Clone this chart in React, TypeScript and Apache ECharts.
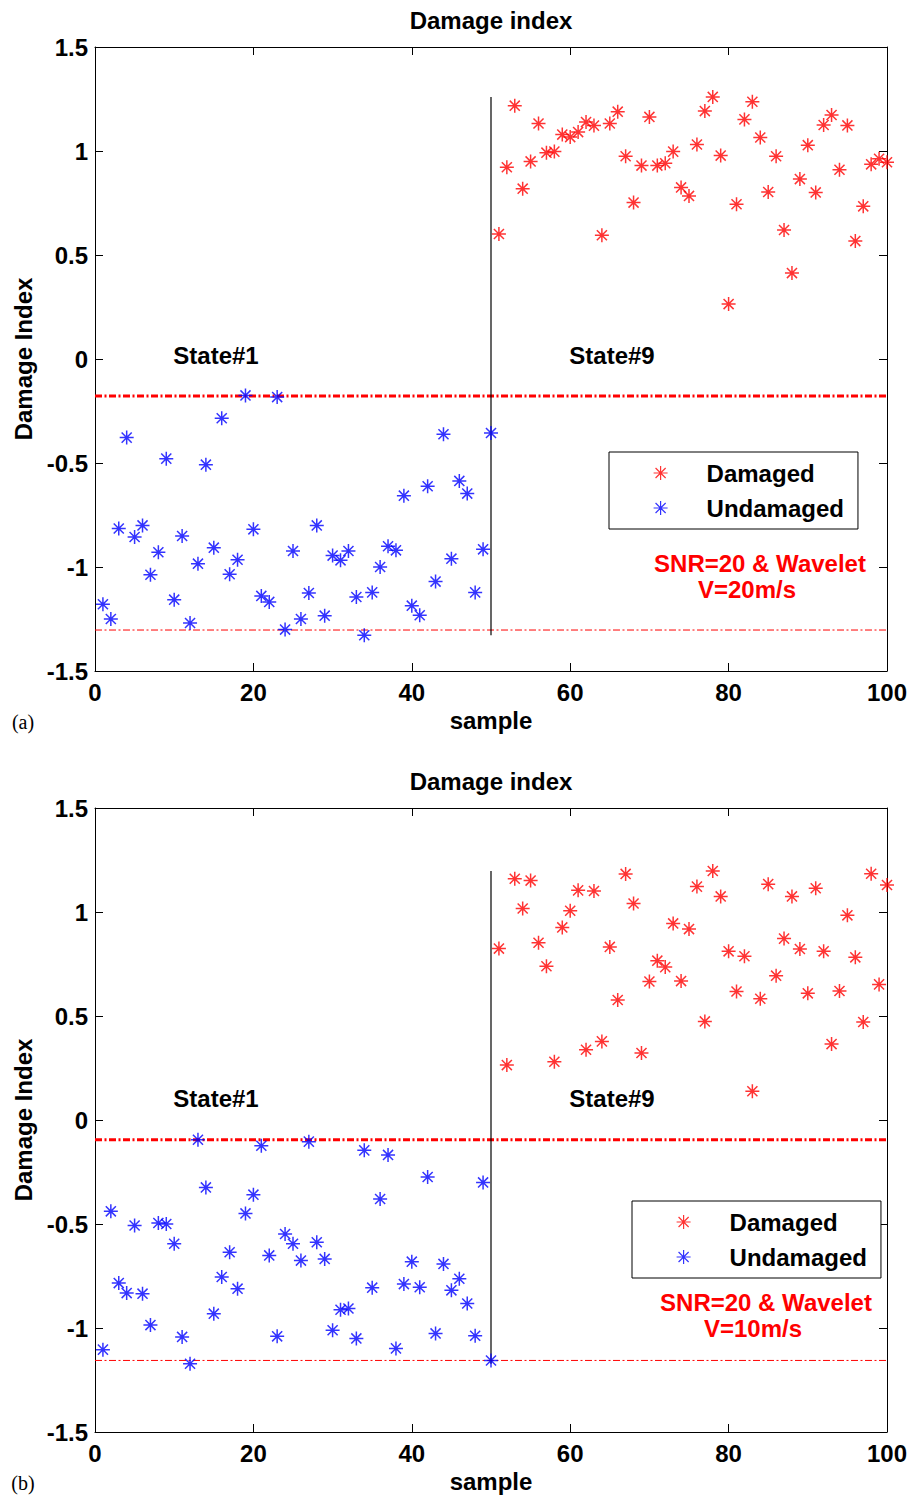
import React, { useEffect, useRef } from "react";
import * as echarts from "echarts";

// ---------- data ----------
const xTicks = [0, 20, 40, 60, 80, 100];
const yTicks = [-1.5, -1, -0.5, 0, 0.5, 1, 1.5];

// panel (a): V = 20 m/s
const undamagedA = [
  -1.179, -1.25, -0.815, -0.378, -0.856, -0.8, -1.037, -0.929, -0.479, -1.157,
  -0.851, -1.269, -0.984, -0.508, -0.907, -0.285, -1.035, -0.965, -0.175, -0.819,
  -1.139, -1.168, -0.183, -1.301, -0.923, -1.25, -1.125, -0.8, -1.234, -0.945,
  -0.968, -0.923, -1.144, -1.328, -1.122, -1.0, -0.9, -0.92, -0.657, -1.186,
  -1.232, -0.612, -1.07, -0.362, -0.96, -0.586, -0.647, -1.122, -0.915, -0.356,
];
const damagedA = [
  0.601, 0.922, 1.218, 0.819, 0.95, 1.132, 0.992, 0.997, 1.079, 1.067,
  1.091, 1.139, 1.122, 0.595, 1.132, 1.189, 0.975, 0.752, 0.93, 1.164,
  0.93, 0.941, 0.997, 0.825, 0.784, 1.031, 1.192, 1.26, 0.978, 0.264,
  0.744, 1.152, 1.237, 1.065, 0.803, 0.975, 0.62, 0.413, 0.865, 1.028,
  0.801, 1.125, 1.173, 0.91, 1.123, 0.567, 0.734, 0.936, 0.963, 0.946,
];
const thresholdHighA = -0.178;
const thresholdLowA = -1.303;

// panel (b): V = 10 m/s
const undamagedB = [
  -1.104, -0.439, -0.784, -0.832, -0.507, -0.835, -0.986, -0.495, -0.5, -0.595,
  -1.043, -1.172, -0.095, -0.324, -0.931, -0.755, -0.636, -0.811, -0.449, -0.359,
  -0.124, -0.651, -1.04, -0.548, -0.595, -0.676, -0.104, -0.588, -0.668, -1.011,
  -0.912, -0.906, -1.05, -0.146, -0.806, -0.38, -0.168, -1.098, -0.789, -0.681,
  -0.804, -0.274, -1.026, -0.692, -0.819, -0.763, -0.882, -1.037, -0.3, -1.156,
];
const damagedB = [
  0.824, 0.264, 1.16, 1.017, 1.151, 0.852, 0.739, 0.28, 0.926, 1.006,
  1.104, 0.338, 1.101, 0.378, 0.832, 0.577, 1.183, 1.041, 0.322, 0.666,
  0.766, 0.735, 0.945, 0.668, 0.918, 1.122, 0.474, 1.197, 1.075, 0.811,
  0.618, 0.787, 0.138, 0.583, 1.134, 0.694, 0.872, 1.075, 0.822, 0.609,
  1.114, 0.811, 0.365, 0.62, 0.984, 0.782, 0.471, 1.184, 0.652, 1.13,
];
const thresholdHighB = -0.095;
const thresholdLowB = -1.156;

const firstUndamagedSample = 1;
const firstDamagedSample = 51;
const stateBoundary = 50;

const seriesNames = ["Damaged", "Undamaged"];
const stateLabels = ["State#1", "State#9"];
const noteA = ["SNR=20 & Wavelet", "V=20m/s"];
const noteB = ["SNR=20 & Wavelet", "V=10m/s"];

// ---------- styling ----------
const FONT = "'Liberation Sans', Arial, Helvetica, sans-serif";
const FS = 24;
const RED = "#ff0000";
const BLUE = "#0000ff";
const ASTERISK =
  "path://M0,-1L0,1M-1,0L1,0M-0.72,-0.72L0.72,0.72M-0.72,0.72L0.72,-0.72";

const PLOT_LEFT = 95;
const PLOT_WIDTH = 792;
const PLOT_HEIGHT = 624;
const TOPS = [47, 808];

function buildPanel(
  idx: number,
  damaged: number[],
  undamaged: number[],
  tHigh: number,
  tLow: number
) {
  const top = TOPS[idx];
  const grid = {
    left: PLOT_LEFT,
    top,
    width: PLOT_WIDTH,
    height: PLOT_HEIGHT,
    show: false,
  };
  const axisLine = { show: true, onZero: false, lineStyle: { color: "#000", width: 1 } };
  const axisTick = { show: true, inside: true, length: 8, lineStyle: { color: "#000", width: 1 } };
  const labelStyle = {
    color: "#000",
    fontFamily: FONT,
    fontWeight: "bold",
    fontSize: FS,
  };
  const xAxes = [
    {
      gridIndex: idx,
      type: "value",
      position: "bottom",
      min: xTicks[0],
      max: xTicks[xTicks.length - 1],
      interval: xTicks[1] - xTicks[0],
      axisLine,
      axisTick,
      splitLine: { show: false },
      axisLabel: { ...labelStyle, margin: 9 },
      name: "sample",
      nameLocation: "middle",
      nameGap: 37,
      nameTextStyle: { ...labelStyle },
    },
    {
      gridIndex: idx,
      type: "value",
      position: "top",
      min: xTicks[0],
      max: xTicks[xTicks.length - 1],
      interval: xTicks[1] - xTicks[0],
      axisLine,
      axisTick,
      splitLine: { show: false },
      axisLabel: { show: false },
    },
  ];
  const yAxes = [
    {
      gridIndex: idx,
      type: "value",
      position: "left",
      min: yTicks[0],
      max: yTicks[yTicks.length - 1],
      interval: yTicks[1] - yTicks[0],
      axisLine,
      axisTick,
      splitLine: { show: false },
      axisLabel: { ...labelStyle, margin: 7 },
      name: "Damage Index",
      nameLocation: "middle",
      nameGap: 58,
      nameTextStyle: { ...labelStyle },
    },
    {
      gridIndex: idx,
      type: "value",
      position: "right",
      min: yTicks[0],
      max: yTicks[yTicks.length - 1],
      interval: yTicks[1] - yTicks[0],
      axisLine,
      axisTick,
      splitLine: { show: false },
      axisLabel: { show: false },
    },
  ];
  const xi = idx * 2;
  const yi = idx * 2;
  const all = [...damaged, ...undamaged];
  const vMax = Math.max(...all);
  const vMin = Math.min(...all);
  const series = [
    {
      type: "line",
      xAxisIndex: xi,
      yAxisIndex: yi,
      data: [
        [xTicks[0], tHigh],
        [xTicks[xTicks.length - 1], tHigh],
      ],
      symbol: "none",
      silent: true,
      lineStyle: { color: RED, width: 3, type: [7, 2.5, 2, 2.5] },
      z: 2,
    },
    {
      type: "line",
      xAxisIndex: xi,
      yAxisIndex: yi,
      data: [
        [xTicks[0], tLow],
        [xTicks[xTicks.length - 1], tLow],
      ],
      symbol: "none",
      silent: true,
      lineStyle: { color: RED, width: 1, type: [7, 2.5, 2, 2.5] },
      z: 2,
    },
    {
      type: "line",
      xAxisIndex: xi,
      yAxisIndex: yi,
      data: [
        [stateBoundary, vMax],
        [stateBoundary, vMin],
      ],
      symbol: "none",
      silent: true,
      lineStyle: { color: "#000", width: 1.2 },
      z: 2,
    },
    {
      name: seriesNames[0],
      type: "scatter",
      xAxisIndex: xi,
      yAxisIndex: yi,
      data: damaged.map((v, i) => [firstDamagedSample + i, v]),
      symbol: ASTERISK,
      symbolSize: 14,
      itemStyle: { color: "transparent", borderColor: RED, borderWidth: 1.5 },
      z: 3,
    },
    {
      name: seriesNames[1],
      type: "scatter",
      xAxisIndex: xi,
      yAxisIndex: yi,
      data: undamaged.map((v, i) => [firstUndamagedSample + i, v]),
      symbol: ASTERISK,
      symbolSize: 14,
      itemStyle: { color: "transparent", borderColor: BLUE, borderWidth: 1.5 },
      z: 3,
    },
  ];
  return { grid, xAxes, yAxes, series };
}

function textEl(
  text: string,
  x: number,
  y: number,
  opts: { fill?: string; size?: number; weight?: string; family?: string } = {}
) {
  return {
    type: "text",
    x,
    y,
    z: 10,
    style: {
      text,
      fill: opts.fill || "#000",
      fontSize: opts.size || FS,
      fontWeight: opts.weight || "bold",
      fontFamily: opts.family || FONT,
      align: "center",
      verticalAlign: "middle",
      textAlign: "center",
      textVerticalAlign: "middle",
    },
  };
}

function legendFor(left: number, top: number) {
  return {
    orient: "vertical",
    left,
    top,
    selectedMode: false,
    backgroundColor: "#fff",
    borderColor: "#000",
    borderWidth: 1,
    borderRadius: 0,
    padding: [8, 14, 8, 44],
    itemWidth: 14,
    itemHeight: 14,
    itemGap: 9,
    textStyle: {
      color: "#000",
      fontFamily: FONT,
      fontWeight: "bold",
      fontSize: FS,
      lineHeight: 26,
      padding: [0, 0, 0, 34],
    },
    data: [
      {
        name: seriesNames[0],
        icon: ASTERISK,
        itemStyle: { color: "transparent", borderColor: RED, borderWidth: 1.2 },
      },
      {
        name: seriesNames[1],
        icon: ASTERISK,
        itemStyle: { color: "transparent", borderColor: BLUE, borderWidth: 1.2 },
      },
    ],
  };
}

export default function App() {
  const ref = useRef<HTMLDivElement>(null);
  useEffect(() => {
    if (!ref.current) return;
    const chart = echarts.init(ref.current, undefined, { renderer: "svg" });
    const pa = buildPanel(0, damagedA, undamagedA, thresholdHighA, thresholdLowA);
    const pb = buildPanel(1, damagedB, undamagedB, thresholdHighB, thresholdLowB);
    const titleStyle = {
      color: "#000",
      fontFamily: FONT,
      fontWeight: "bold",
      fontSize: FS,
    };
    const serif = "'Liberation Serif', 'Times New Roman', serif";
    const option: any = {
      animation: false,
      backgroundColor: "#fff",
      title: [
        { text: "Damage index", left: 491, top: 8, padding: 0, textAlign: "center", textStyle: titleStyle },
        { text: "Damage index", left: 491, top: 769, padding: 0, textAlign: "center", textStyle: titleStyle },
      ],
      legend: [legendFor(609, 452), legendFor(632, 1201)],
      grid: [pa.grid, pb.grid],
      xAxis: [...pa.xAxes, ...pb.xAxes],
      yAxis: [...pa.yAxes, ...pb.yAxes],
      series: [...pa.series, ...pb.series],
      graphic: [
        textEl(stateLabels[0], 216, 355),
        textEl(stateLabels[1], 612, 355),
        textEl(stateLabels[0], 216, 1098),
        textEl(stateLabels[1], 612, 1098),
        textEl(noteA[0], 760, 563, { fill: RED }),
        textEl(noteA[1], 747, 589, { fill: RED }),
        textEl(noteB[0], 766, 1302, { fill: RED }),
        textEl(noteB[1], 753, 1328, { fill: RED }),
        textEl("(a)", 23, 722, { size: 20, weight: "normal", family: serif }),
        textEl("(b)", 23, 1483, { size: 20, weight: "normal", family: serif }),
      ],
    };
    chart.setOption(option);
    return () => chart.dispose();
  }, []);
  return (
    <div
      ref={ref}
      style={{ position: "absolute", left: 0, top: 0, width: 911, height: 1498, background: "#fff" }}
    />
  );
}
